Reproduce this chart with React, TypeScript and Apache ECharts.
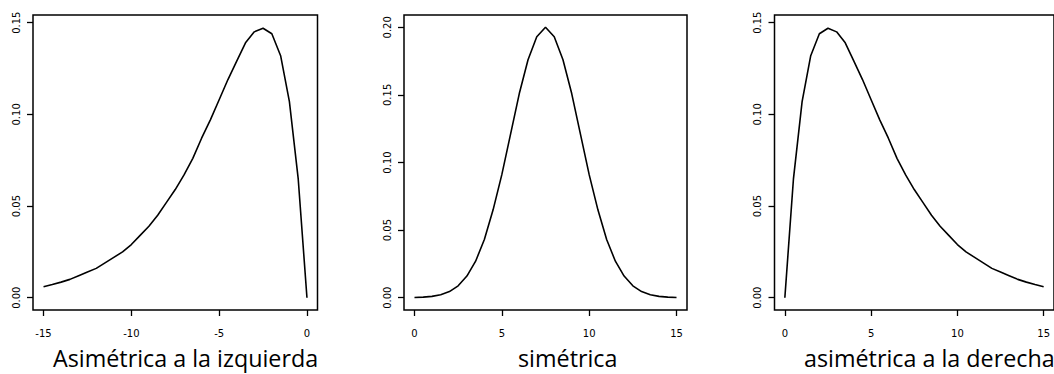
import React, { useEffect, useRef } from "react";
import * as echarts from "echarts";

// Density curves sampled every 0.5 units
const xLeft = [
  -15, -14.5, -14, -13.5, -13, -12.5, -12, -11.5, -11, -10.5, -10, -9.5, -9, -8.5, -8, -7.5,
  -7, -6.5, -6, -5.5, -5, -4.5, -4, -3.5, -3, -2.5, -2, -1.5, -1, -0.5, 0,
];
const yLeft = [
  0.006, 0.0072, 0.0085, 0.01, 0.012, 0.014, 0.016, 0.019, 0.022, 0.025, 0.029, 0.034, 0.039,
  0.045, 0.052, 0.059, 0.067, 0.076, 0.087, 0.097, 0.108, 0.119, 0.129, 0.139, 0.145, 0.147,
  0.144, 0.132, 0.107, 0.065, 0,
];

const xSym = [
  0, 0.5, 1, 1.5, 2, 2.5, 3, 3.5, 4, 4.5, 5, 5.5, 6, 6.5, 7, 7.5, 8, 8.5, 9, 9.5, 10, 10.5, 11,
  11.5, 12, 12.5, 13, 13.5, 14, 14.5, 15,
];
const ySym = [
  0.0002, 0.0004, 0.001, 0.0022, 0.0045, 0.0088, 0.016, 0.027, 0.043, 0.065, 0.091, 0.121,
  0.151, 0.176, 0.193, 0.2, 0.193, 0.176, 0.151, 0.121, 0.091, 0.065, 0.043, 0.027, 0.016,
  0.0088, 0.0045, 0.0022, 0.001, 0.0004, 0.0002,
];

const xRight = [
  0, 0.5, 1, 1.5, 2, 2.5, 3, 3.5, 4, 4.5, 5, 5.5, 6, 6.5, 7, 7.5, 8, 8.5, 9, 9.5, 10, 10.5, 11,
  11.5, 12, 12.5, 13, 13.5, 14, 14.5, 15,
];
const yRight = [
  0, 0.065, 0.107, 0.132, 0.144, 0.147, 0.145, 0.139, 0.129, 0.119, 0.108, 0.097, 0.087, 0.076,
  0.067, 0.059, 0.052, 0.045, 0.039, 0.034, 0.029, 0.025, 0.022, 0.019, 0.016, 0.014, 0.012,
  0.01, 0.0085, 0.0072, 0.006,
];

const xTicksLeft = [-15, -10, -5, 0];
const xTicksRight = [0, 5, 10, 15];
const yTicksSkew = [0, 0.05, 0.1, 0.15];
const yTicksSym = [0, 0.05, 0.1, 0.15, 0.2];

const titles = ["Asimétrica a la izquierda", "simétrica", "asimétrica a la derecha"];

const panels = [
  { x: xLeft, y: yLeft, xTicks: xTicksLeft, yTicks: yTicksSkew, xMin: -15.6, xMax: 0.6, yMin: -0.0067, yMax: 0.1542, left: 33, width: 284.5, titleX: 53 },
  { x: xSym, y: ySym, xTicks: xTicksRight, yTicks: yTicksSym, xMin: -0.6, xMax: 15.6, yMin: -0.0091, yMax: 0.2091, left: 404, width: 283, titleX: 518 },
  { x: xRight, y: yRight, xTicks: xTicksRight, yTicks: yTicksSkew, xMin: -0.6, xMax: 15.6, yMin: -0.0067, yMax: 0.1542, left: 774.5, width: 283.5, titleX: 804 },
];

const labelFont = { fontFamily: "DejaVu Sans", fontSize: 10, color: "#000" };

export default function App() {
  const ref = useRef<HTMLDivElement>(null);

  useEffect(() => {
    if (!ref.current) return;
    const chart = echarts.init(ref.current, undefined, { renderer: "svg" });

    const option: any = {
      animation: false,
      backgroundColor: "#fff",
      grid: panels.map((p) => ({
        left: p.left,
        top: 15,
        width: p.width,
        height: 295,
        show: true,
        borderColor: "#000",
        borderWidth: 1.5,
        backgroundColor: "transparent",
        containLabel: false,
      })),
      xAxis: panels.map((p, i) => ({
        type: "value",
        gridIndex: i,
        min: p.xMin,
        max: p.xMax,
        axisLine: { show: false, onZero: false },
        splitLine: { show: false },
        axisTick: {
          show: true,
          length: 6,
          customValues: p.xTicks,
          lineStyle: { color: "#000", width: 1.3 },
        },
        axisLabel: {
          ...labelFont,
          customValues: p.xTicks,
          margin: 18,
          formatter: (v: number) => String(v),
        },
      })),
      yAxis: panels.map((p, i) => ({
        type: "value",
        gridIndex: i,
        min: p.yMin,
        max: p.yMax,
        axisLine: { show: false, onZero: false },
        splitLine: { show: false },
        axisTick: {
          show: true,
          length: 6,
          customValues: p.yTicks,
          lineStyle: { color: "#000", width: 1.3 },
        },
        axisLabel: {
          ...labelFont,
          customValues: p.yTicks,
          rotate: 90,
          margin: 12,
          formatter: (v: number) => v.toFixed(2),
        },
      })),
      series: panels.map((p, i) => ({
        type: "line",
        xAxisIndex: i,
        yAxisIndex: i,
        data: p.x.map((xv, k) => [xv, p.y[k]]),
        showSymbol: false,
        smooth: false,
        lineStyle: { color: "#000", width: 1.6 },
      })),
      graphic: panels.map((p, i) => ({
        type: "text",
        x: p.titleX,
        y: 357.5,
        style: {
          text: titles[i],
          font: '23.3px "Open Sans"',
          lineHeight: 20,
          fill: "#000",
          textAlign: "left",
          textVerticalAlign: "middle",
          align: "left",
          verticalAlign: "middle",
        },
      })),
    };

    chart.setOption(option);
    return () => chart.dispose();
  }, []);

  return (
    <div
      ref={ref}
      style={{ position: "absolute", left: 0, top: 0, width: 1054, height: 374 }}
    />
  );
}
